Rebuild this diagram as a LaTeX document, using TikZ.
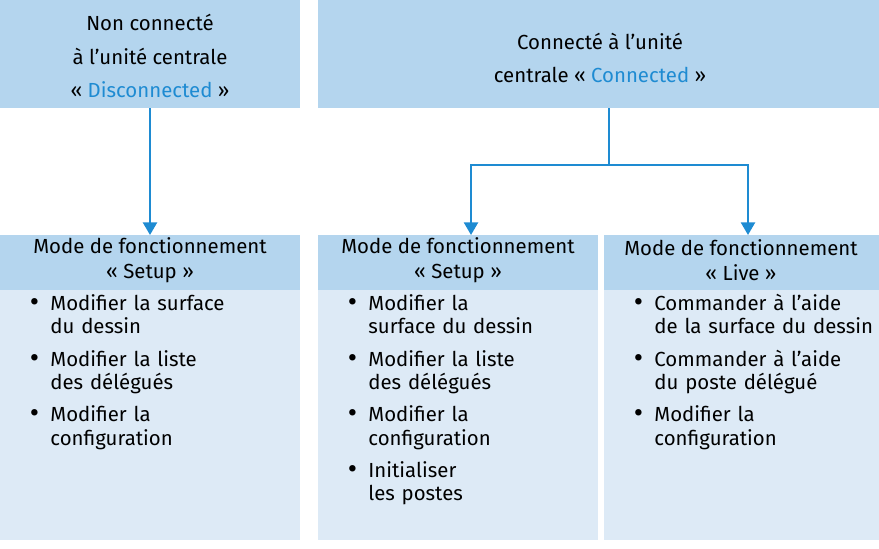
\documentclass[tikz,border=0pt]{standalone}
\usepackage{fontspec}
\setmainfont{Fira Sans}
\usetikzlibrary{arrows.meta,positioning}
\definecolor{headblue}{HTML}{B4D5EE}
\definecolor{bodyblue}{HTML}{DDEAF6}
\definecolor{linkblue}{HTML}{1E8BD2}
\newcommand{\bul}[1]{\begin{list}{\raisebox{-0.8pt}{\scalebox{1.4}{\textbullet}}}{\leftmargin=20pt\labelwidth=10pt\labelsep=8pt\itemsep=6.3pt\parsep=0pt\topsep=0pt}#1\end{list}}
\tikzset{
  txt/.style={align=center, font=\fontsize{14.5}{17}\selectfont},
  items/.style={text width=#1, align=left, anchor=north west, inner sep=0pt, font=\fontsize{14.5}{16.6}\selectfont},
  flow/.style={linkblue, line width=1.6pt},
  tip/.style={flow, -{Triangle[length=9pt,width=10pt]}}
}
\begin{document}
\begin{tikzpicture}[x=0.025cm, y=-0.025cm]
\useasboundingbox (0,0) rectangle (879,548);
% top headers
\fill[headblue] (0,0) rectangle (300,108);
\fill[headblue] (318,0) rectangle (879,108);
\node[txt] (disc) at (150,56) {Non connecté\\[7pt] à l’unité centrale\\[7pt] « \textcolor{linkblue}{Disconnected} »};
\node[txt] (conn) at (600,58) {Connecté à l’unité\\[7pt] centrale « \textcolor{linkblue}{Connected} »};
% lower boxes
\fill[bodyblue] (0,235) rectangle (300,540);
\fill[headblue] (0,235) rectangle (300,290);
\fill[bodyblue] (318,235) rectangle (598,540);
\fill[headblue] (318,235) rectangle (598,290);
\fill[bodyblue] (604,235) rectangle (879,540);
\fill[headblue] (604,235) rectangle (879,290);
\node[txt] (setupA) at (150,260) {Mode de fonctionnement\\[1pt]« Setup »};
\node[txt] (setupB) at (458,260) {Mode de fonctionnement\\[1pt]« Setup »};
\node[txt] (live) at (741,260) {Mode de fonctionnement\\[1pt]« Live »};
\node[items=270pt] (listA) at (22,287) {\bul{\item Modifier la surface\\ du dessin \item Modifier la liste\\ des délégués \item Modifier la\\ configuration}};
\node[items=250pt] (listB) at (340,287) {\bul{\item Modifier la\\ surface du dessin \item Modifier la liste\\ des délégués \item Modifier la\\ configuration \item Initialiser\\ les postes}};
\node[items=250pt] (listC) at (626,287) {\bul{\item Commander à l’aide\\ de la surface du dessin \item Commander à l’aide\\ du poste délégué \item Modifier la\\ configuration}};
% connectors
\coordinate (a0) at (150,108);
\coordinate (a1) at (150,235);
\coordinate (b0) at (609,108);
\coordinate (b1) at (609,165);
\coordinate (bl) at (471,165);
\coordinate (br) at (748,165);
\coordinate (bl1) at (471,235);
\coordinate (br1) at (748,235);
\draw[tip] (a0) -- (a1);
\draw[flow] (b0) -- (b1);
\draw[tip] (b1) -- (bl) -- (bl1);
\draw[tip] (b1) -- (br) -- (br1);
\end{tikzpicture}
\end{document}
